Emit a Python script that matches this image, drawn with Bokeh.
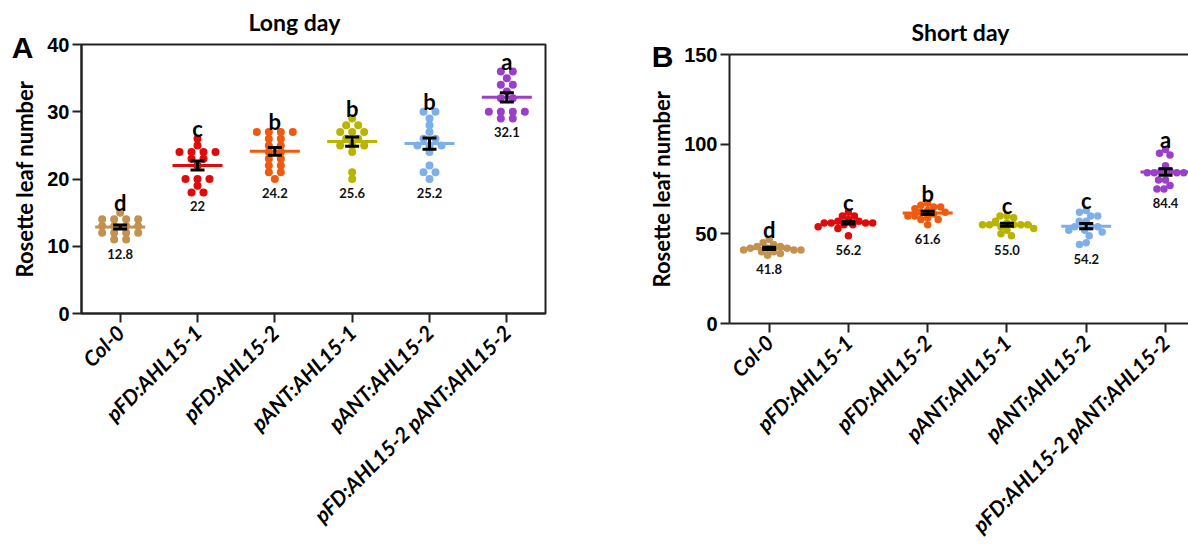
import numpy as np
from bokeh.plotting import figure
from bokeh.layouts import row
from bokeh.models import FixedTicker, Label, LinearAxis, ColumnDataSource, Title
from bokeh.embed import file_html
from bokeh.resources import INLINE

# ---------------- data ----------------
categories = ["Col-0", "pFD:AHL15-1", "pFD:AHL15-2", "pANT:AHL15-1",
              "pANT:AHL15-2", "pFD:AHL15-2 pANT:AHL15-2"]
colors = ["#C4924F", "#E10A0A", "#F05A0F", "#B9B400", "#7DB0EA", "#9C3FC8"]

long_col0 = [15, 14, 14, 14, 14, 13, 13, 13, 13, 12, 12, 12, 12, 11, 11]
long_pfd1 = [26, 25, 24, 24, 24, 24, 23, 23, 22, 20, 20, 20, 19, 18, 18]
long_pfd2 = [27, 27, 27, 27, 26, 26, 25, 25, 24, 24, 23, 23, 22, 22, 21, 21, 20]
long_pant1 = [29, 28, 28, 27, 27, 27, 26, 26, 25, 25, 25, 24, 21, 20]
long_pant2 = [30, 30, 29, 28, 27, 26, 26, 25, 25, 25, 24, 22, 21, 21, 20]
long_double = [36, 36, 35, 34, 34, 33, 32, 32, 30, 30, 30, 30, 29, 29]
long_letters = ["d", "c", "b", "b", "b", "a"]
long_mean_labels = ["12.8", "22", "24.2", "25.6", "25.2", "32.1"]

short_col0 = [47, 45, 44, 43, 43, 42, 42, 42, 41, 41, 41, 40, 40, 39, 38]
short_pfd1 = [62, 60, 60, 58, 57, 57, 56, 56, 56, 56, 55, 55, 54, 53, 49]
short_pfd2 = [67, 66, 65, 65, 64, 63, 62, 62, 61, 60, 60, 59, 58, 58, 55]
short_pant1 = [60, 60, 59, 57, 56, 55, 55, 55, 55, 55, 54, 53, 52, 50, 49]
short_pant2 = [63, 62, 60, 60, 57, 57, 54, 54, 54, 52, 52, 51, 49, 45, 44]
short_double = [97, 95, 94, 88, 85, 85, 84, 84, 84, 84, 80, 80, 77, 75, 75]
short_letters = ["d", "c", "b", "c", "c", "a"]
short_mean_labels = ["41.8", "56.2", "61.6", "55.0", "54.2", "84.4"]

long_ticks = [0, 10, 20, 30, 40]
short_ticks = [0, 50, 100, 150]

TXT = "Lato"
NUM = "Liberation Sans"
AX = "#222222"


def row_offsets(vals, step):
    vals = np.asarray(vals, float)
    off = np.zeros(len(vals))
    for v in np.unique(vals):
        idx = np.where(vals == v)[0]
        k = len(idx)
        for j, i in enumerate(idx):
            off[i] = (j - (k - 1) / 2) * step
    return off


def beeswarm(vals, ypx, xpx, d):
    vals = np.asarray(vals, float)
    xs = np.zeros(len(vals))
    placed = []
    for i in np.argsort(-vals, kind="stable"):
        y = vals[i] * ypx
        cands = [0.0]
        for (px, py) in placed:
            dy = abs(py - y)
            if dy < d:
                dx = np.sqrt(d * d - dy * dy)
                cands += [px - dx, px + dx]
        cands.sort(key=abs)
        for c in cands:
            if all((c - px) ** 2 + (y - py) ** 2 >= d * d - 1e-6 for px, py in placed):
                xs[i] = c
                break
        placed.append((xs[i], y))
    return xs / xpx


def make_panel(groups, letters, mlabels, yend, yticks, title, letter,
               width, height, mb_left, mb_right, mb_top, mb_bottom,
               xend, swarm, dot, title_offset, letter_tick, letter_standoff,
               full_box):
    p = figure(width=width, height=height, output_backend="svg",
               toolbar_location=None, x_range=(-0.5, xend), y_range=(0, yend),
               min_border_left=mb_left, min_border_right=mb_right,
               min_border_top=mb_top, min_border_bottom=mb_bottom)
    fw = width - mb_left - mb_right
    fh = height - mb_top - mb_bottom
    xpx = fw / (xend + 0.5)
    ypx = fh / yend
    p.xgrid.visible = False
    p.ygrid.visible = False
    p.background_fill_color = "white"
    p.border_fill_color = "white"
    if full_box:
        p.outline_line_color = AX
        p.outline_line_width = 2
    else:
        p.outline_line_color = None
    # top axis: frame top line (panel B) and a gap under the title
    top = LinearAxis(ticker=FixedTicker(ticks=[0]),
                     major_label_overrides={0: ""},
                     axis_line_color=None if full_box else AX,
                     axis_line_width=2, major_label_text_font_size="0px",
                     major_label_text_color=None,
                     major_tick_line_color=None, minor_tick_line_color=None,
                     major_label_standoff=0, major_tick_out=9, major_tick_in=0)
    p.add_layout(top, "above")
    p.add_layout(Title(text=title, align="left", offset=title_offset, standoff=0,
                       text_font=TXT, text_font_style="bold",
                       text_font_size="23px", text_color="black"), "above")

    for i, vals in enumerate(groups):
        vals = np.asarray(vals, float)
        if swarm == "rows":
            off = row_offsets(vals, 12.0 / xpx)
        else:
            off = beeswarm(vals, ypx, xpx, 7.0)
        src = ColumnDataSource(dict(x=i + off, y=vals))
        p.scatter("x", "y", source=src, size=dot, fill_color=colors[i],
                  line_color=None)
        m = vals.mean()
        sem = vals.std(ddof=1) / np.sqrt(len(vals))
        hw = 25.0 / xpx
        p.segment(x0=[i - hw], y0=[m], x1=[i + hw], y1=[m],
                  line_color=colors[i], line_width=3)
        cw = 7.0 / xpx
        p.segment(x0=[i, i - cw, i - cw], y0=[m - sem, m - sem, m + sem],
                  x1=[i, i + cw, i + cw], y1=[m + sem, m - sem, m + sem],
                  line_color="black", line_width=3)
        p.add_layout(Label(x=i, y=vals.max(), text=letters[i], text_align="center",
                           text_baseline="alphabetic", y_offset=10,
                           text_font=TXT, text_font_style="bold",
                           text_font_size="22px", text_color="black"))
        p.add_layout(Label(x=i, y=vals.min(), text=mlabels[i], text_align="center",
                           text_baseline="top", y_offset=-9,
                           text_font=TXT, text_font_style="bold",
                           text_font_size="13px", text_color="#111111"))

    xa = p.below[0]
    xa.ticker = FixedTicker(ticks=list(range(len(categories))))
    xa.major_label_overrides = {i: c for i, c in enumerate(categories)}
    xa.major_label_orientation = np.pi / 4
    xa.major_label_text_font = TXT
    xa.major_label_text_font_style = "bold italic"
    xa.major_label_text_font_size = "21px"
    xa.major_label_text_color = "black"
    xa.major_label_standoff = 6
    ya = p.left[0]
    ya.ticker = FixedTicker(ticks=yticks)
    ya.major_label_text_font = NUM
    ya.major_label_text_font_style = "bold"
    ya.major_label_text_font_size = "20px"
    ya.major_label_text_color = "black"
    ya.major_label_standoff = 3
    ya.axis_label = "Rosette leaf number"
    ya.axis_label_text_font = TXT
    ya.axis_label_text_font_style = "bold"
    ya.axis_label_text_font_size = "22px"
    ya.axis_label_text_color = "black"
    ya.axis_label_standoff = 6
    for ax in (xa, ya):
        ax.axis_line_color = AX
        ax.axis_line_width = 2
        ax.major_tick_line_color = AX
        ax.major_tick_line_width = 2
        ax.major_tick_out = 9
        ax.major_tick_in = 0
        ax.minor_tick_line_color = None

    # panel letter drawn as the single tick label of an outer left axis
    la = LinearAxis(ticker=FixedTicker(ticks=[letter_tick]),
                    major_label_overrides={letter_tick: letter},
                    axis_line_color=None, major_tick_line_color=None,
                    minor_tick_line_color=None, major_tick_out=0, major_tick_in=0,
                    major_label_standoff=letter_standoff,
                    major_label_text_font=NUM, major_label_text_font_style="bold",
                    major_label_text_font_size="30px",
                    major_label_text_color="black")
    p.add_layout(la, "left")
    return p


pa = make_panel([long_col0, long_pfd1, long_pfd2, long_pant1, long_pant2, long_double],
                long_letters, long_mean_labels, 40, long_ticks, "Long day", "A",
                width=600, height=540, mb_left=81, mb_right=55, mb_top=44,
                mb_bottom=227, xend=5.5, swarm="rows", dot=8,
                title_offset=167, letter_tick=39.5, letter_standoff=-25,
                full_box=True)

pb = make_panel([short_col0, short_pfd1, short_pfd2, short_pant1, short_pant2, short_double],
                short_letters, short_mean_labels, 150, short_ticks, "Short day", "B",
                width=588, height=540, mb_left=129, mb_right=0, mb_top=44,
                mb_bottom=227, xend=5.29, swarm="bee", dot=7.5,
                title_offset=182, letter_tick=149, letter_standoff=-28,
                full_box=False)
pb.styles = {"transform": "translateY(10px)"}

layout = row(pa, pb)
open("out.html", "w").write(file_html(layout, INLINE))
